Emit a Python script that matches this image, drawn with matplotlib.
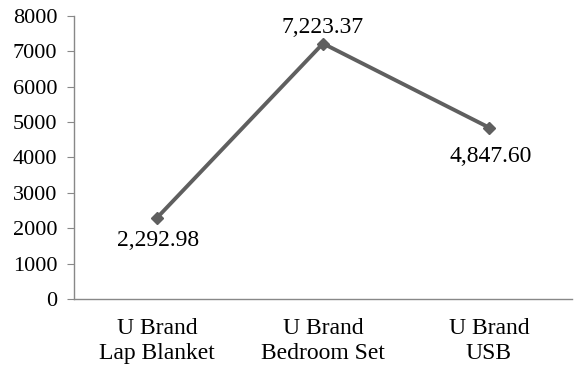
import matplotlib.pyplot as plt

products = ["U Brand\nLap Blanket", "U Brand\nBedroom Set", "U Brand\nUSB"]
sales = [2292.98, 7223.37, 4847.60]
label_offsets = [(1, -16), (0, 11.5), (1, -21)]
y_ticks = [0, 1000, 2000, 3000, 4000, 5000, 6000, 7000, 8000]

plt.rcParams['font.family'] = ['Liberation Serif', 'DejaVu Serif']

fig = plt.figure(figsize=(5.76, 3.69), dpi=100)
ax = fig.add_axes([0.1285, 0.19, 0.8645, 0.7665])

x = list(range(len(products)))
ax.plot(x, sales, color='#5f5f5f', linewidth=2.8, marker='D', markersize=6.5)

for xi, val, off in zip(x, sales, label_offsets):
    ax.annotate(f"{val:,.2f}", (xi, val), xytext=off, textcoords='offset points',
                ha='center', va='center', fontsize=17)

ax.set_xlim(-0.5, 2.5)
ax.set_ylim(0, 8000)
ax.set_yticks(y_ticks)
ax.set_xticks(x)
ax.set_xticklabels(products, fontsize=17, linespacing=1.25)
ax.tick_params(axis='y', labelsize=16, length=5, color='#888888', pad=7)
ax.tick_params(axis='x', length=0, pad=14)

for side in ['top', 'right']:
    ax.spines[side].set_visible(False)
for side in ['left', 'bottom']:
    ax.spines[side].set_color('#888888')
    ax.spines[side].set_linewidth(1)

plt.savefig('out.png', dpi=100)
